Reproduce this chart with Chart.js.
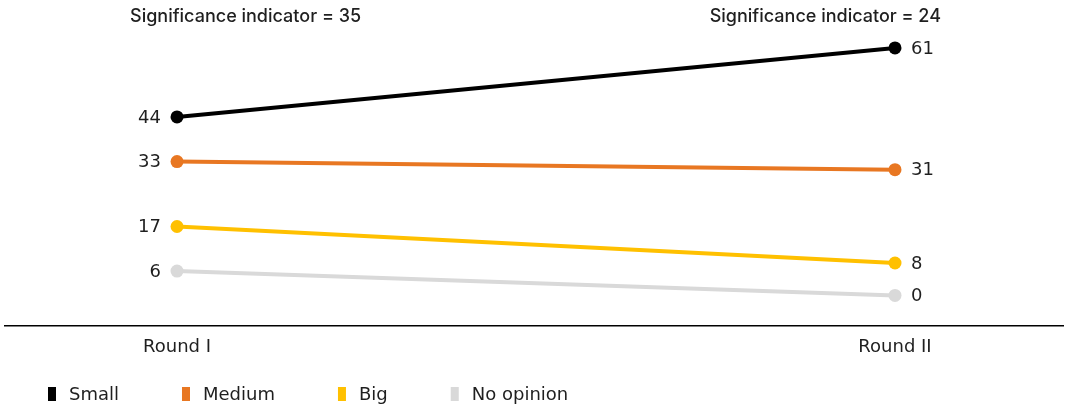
<!DOCTYPE html>
<html>
<head>
<meta charset="utf-8">
<script src="https://cdn.jsdelivr.net/npm/chart.js@4/dist/chart.umd.min.js"></script>
<style>
  html, body { margin: 0; padding: 0; background: #fff; }
  #wrap { width: 1065px; height: 406px; position: relative; }
</style>
</head>
<body>
<div id="wrap"><canvas id="slope"></canvas></div>
<script>
const rounds = ['Round I', 'Round II'];
const seriesNames = ['Small', 'Medium', 'Big', 'No opinion'];
const small = [44, 61];
const medium = [33, 31];
const big = [17, 8];
const noOpinion = [6, 0];
const significance = ['Significance indicator = 35', 'Significance indicator = 24'];
const colors = ['#000000', '#E87722', '#FFC000', '#D9D9D9'];

const FONT = '"DejaVu Sans", sans-serif';
const TITLE_FONT = 'Inter, "Noto Sans", sans-serif';
const TEXT = '#1f1f1f';

const allSeries = [small, medium, big, noOpinion];
const datasets = allSeries.map((vals, i) => ({
    label: seriesNames[i],
    data: vals.map((v, j) => ({x: j, y: v})),
    borderColor: colors[i],
    backgroundColor: colors[i],
    borderWidth: 4,
    pointRadius: 6.5,
    pointHoverRadius: 6.5,
    pointBorderWidth: 0,
    clip: false,
    order: i
}));

// value labels beside each point, significance text on top, legend at the bottom
const slopeLabels = {
    id: 'slopeLabels',
    afterDatasetsDraw(chart) {
        const ctx = chart.ctx;
        ctx.save();
        ctx.font = '18px ' + FONT;
        ctx.fillStyle = TEXT;
        ctx.textBaseline = 'middle';
        chart.data.datasets.forEach((ds, i) => {
            chart.getDatasetMeta(i).data.forEach((pt, j) => {
                ctx.textAlign = j === 0 ? 'right' : 'left';
                const dx = j === 0 ? -16 : 16;
                ctx.fillText(String(ds.data[j].y), pt.x + dx, pt.y + 1);
            });
        });

        const xs = chart.scales.x;
        ctx.font = '500 18px ' + TITLE_FONT;
        ctx.textAlign = 'left';
        ctx.fillText(significance[0], xs.getPixelForValue(0) - 47, 17);
        ctx.textAlign = 'right';
        ctx.fillText(significance[1], xs.getPixelForValue(1) + 46, 17);

        // legend
        ctx.font = '18px ' + FONT;
        ctx.textAlign = 'left';
        let x = 48;
        const y = 394;
        chart.data.datasets.forEach((ds) => {
            ctx.fillStyle = ds.borderColor;
            ctx.fillRect(x, y - 7, 8, 14);
            ctx.fillStyle = TEXT;
            ctx.fillText(ds.label, x + 21, y + 1);
            x += 21 + ctx.measureText(ds.label).width + 63;
        });
        ctx.restore();
    }
};

new Chart(document.getElementById('slope'), {
    type: 'line',
    data: {datasets: datasets},
    options: {
        responsive: true,
        maintainAspectRatio: false,
        animation: false,
        layout: {autoPadding: false, padding: {top: 30, bottom: 37, left: 5, right: 2}},
        plugins: {
            legend: {display: false},
            tooltip: {enabled: false}
        },
        scales: {
            x: {
                type: 'linear',
                min: -0.2396,
                max: 1.234,
                afterBuildTicks: (axis) => {
                    axis.ticks = rounds.map((r, i) => ({value: i}));
                },
                ticks: {
                    padding: 11,
                    color: TEXT,
                    font: {family: FONT, size: 18},
                    callback: (v) => rounds[v]
                },
                grid: {display: false, drawTicks: false},
                border: {display: true, color: '#000', width: 1.5}
            },
            y: {
                display: false,
                min: -7.38,
                max: 65.42
            }
        }
    },
    plugins: [slopeLabels]
});
</script>
</body>
</html>
